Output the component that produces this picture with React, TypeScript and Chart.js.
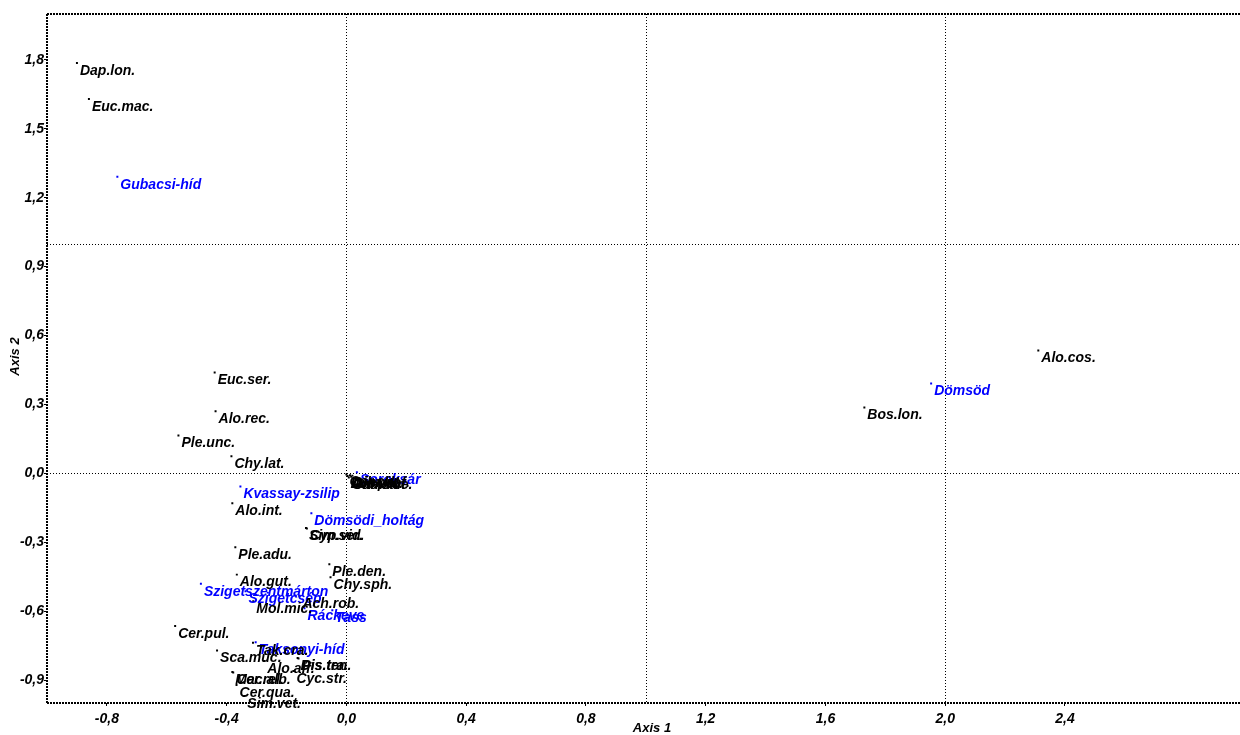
import React, { useEffect, useRef } from 'react';
import { Chart, registerables } from 'chart.js';

Chart.register(...registerables);

// Axis ticks and reference lines
const xTicks = [-0.8, -0.4, 0, 0.4, 0.8, 1.2, 1.6, 2.0, 2.4];
const yTicks = [-0.9, -0.6, -0.3, 0, 0.3, 0.6, 0.9, 1.2, 1.5, 1.8];
const refLinesX = [0, 1, 2];
const refLinesY = [0, 1];

// Species (black)
const speciesNames = [
  'Dap.lon.', 'Euc.mac.', 'Euc.ser.', 'Alo.rec.', 'Ple.unc.', 'Chy.lat.', 'Alo.int.',
  'Ple.adu.', 'Alo.gut.', 'Sim.ser.', 'Cyp.vid.', 'Ple.den.', 'Chy.sph.', 'Ach.rob.',
  'Mol.mic.', 'Cer.pul.', 'Tak.cra.', 'Sca.muc.', 'Alo.aff.', 'Dis.tra.', 'Pis.ten.',
  'Mac.alb.', 'Cer.rel.', 'Cyc.str.', 'Cer.qua.', 'Sim.vet.', 'Bos.lon.', 'Alo.cos.',
  'Cor.cur.', 'Dre.pol.', 'Gam.roe.', 'Dik.vil.', 'Jae.sar.', 'Lim.hof.',
];
const speciesX = [
  -0.90, -0.86, -0.44, -0.437, -0.561, -0.384, -0.381,
  -0.371, -0.366, -0.135, -0.132, -0.057, -0.053, -0.157,
  -0.311, -0.572, -0.312, -0.432, -0.274, -0.163, -0.160,
  -0.381, -0.378, -0.177, -0.367, -0.341, 1.730, 2.311,
  0.0, 0.004, 0.008, 0.012, 0.016, 0.020,
];
const speciesY = [
  1.787, 1.630, 0.439, 0.270, 0.165, 0.074, -0.130,
  -0.322, -0.441, -0.238, -0.240, -0.396, -0.452, -0.535,
  -0.557, -0.665, -0.738, -0.771, -0.817, -0.804, -0.806,
  -0.865, -0.867, -0.861, -0.922, -0.970, 0.287, 0.535,
  -0.005, -0.012, -0.018, -0.008, -0.015, -0.010,
];

// Sites (blue)
const siteNames = [
  'Gubacsi-híd', 'Kvassay-zsilip', 'Dömsödi_holtág', 'Dömsöd', 'Soroksár',
  'Szigetszentmárton', 'Szigetcsép', 'Ráckeve', 'Tass', 'Taksonyi-híd',
];
const siteX = [-0.765, -0.354, -0.117, 1.953, 0.035, -0.486, -0.337, -0.140, -0.047, -0.303];
const siteY = [1.291, -0.057, -0.174, 0.391, 0.005, -0.481, -0.513, -0.587, -0.596, -0.735];

const FONT_FAMILY = "'Liberation Sans', Arial, sans-serif";

export default function App() {
  const ref = useRef<HTMLCanvasElement>(null);

  useEffect(() => {
    if (!ref.current) return;
    const fmt = (v: number) => (Math.abs(v) < 1e-9 ? '0,0' : v.toFixed(1).replace('.', ','));

    const framePlugin = {
      id: 'frame',
      beforeDatasetsDraw(chart: any) {
        const { ctx, chartArea, scales } = chart;
        const { left, right, top, bottom } = chartArea;
        ctx.save();
        ctx.strokeStyle = '#000';
        ctx.lineWidth = 1;
        ctx.setLineDash([1, 2]);
        refLinesX.forEach((v) => {
          const px = Math.round(scales.x.getPixelForValue(v)) + 0.5;
          ctx.beginPath();
          ctx.moveTo(px, top);
          ctx.lineTo(px, bottom);
          ctx.stroke();
        });
        refLinesY.forEach((v) => {
          const py = Math.round(scales.y.getPixelForValue(v)) + 0.5;
          ctx.beginPath();
          ctx.moveTo(left, py);
          ctx.lineTo(right, py);
          ctx.stroke();
        });
        ctx.lineWidth = 2;
        ctx.setLineDash([2, 1]);
        ctx.beginPath();
        ctx.moveTo(left, top);
        ctx.lineTo(right, top);
        ctx.moveTo(left, top);
        ctx.lineTo(left, bottom);
        ctx.moveTo(left, bottom);
        ctx.lineTo(right, bottom);
        ctx.stroke();
        ctx.restore();
      },
      afterDraw(chart: any) {
        const { ctx, chartArea } = chart;
        ctx.save();
        ctx.fillStyle = '#000';
        ctx.font = `italic bold 13px ${FONT_FAMILY}`;
        ctx.textAlign = 'center';
        ctx.textBaseline = 'middle';
        ctx.fillText('Axis 1', 652, 728);
        ctx.translate(15, (chartArea.top + chartArea.bottom) / 2 - 2);
        ctx.rotate(-Math.PI / 2);
        ctx.fillText('Axis 2', 0, 0);
        ctx.restore();
      },
    };

    const labelPlugin = {
      id: 'pointLabels',
      afterDatasetsDraw(chart: any) {
        const ctx = chart.ctx;
        ctx.save();
        ctx.font = `italic bold 14px ${FONT_FAMILY}`;
        ctx.textBaseline = 'middle';
        ctx.textAlign = 'left';
        chart.data.datasets.forEach((ds: any, i: number) => {
          const meta = chart.getDatasetMeta(i);
          ctx.fillStyle = ds.labelColor;
          meta.data.forEach((el: any, j: number) => {
            ctx.fillText(ds.pointLabels[j], el.x + 3, el.y + 8);
          });
        });
        ctx.restore();
      },
    };

    const tickFont = { family: FONT_FAMILY, size: 14, style: 'italic' as const, weight: 'bold' as const };

    const chart = new Chart(ref.current, {
      type: 'scatter',
      data: {
        datasets: [
          {
            label: 'Sites',
            data: siteX.map((x, i) => ({ x, y: siteY[i] })),
            backgroundColor: '#0000ff',
            borderWidth: 0,
            pointStyle: 'rect',
            pointRadius: 1.4,
            pointHoverRadius: 1.4,
            // @ts-ignore
            pointLabels: siteNames,
            labelColor: '#0000ff',
          },
          {
            label: 'Species',
            data: speciesX.map((x, i) => ({ x, y: speciesY[i] })),
            backgroundColor: '#000000',
            borderWidth: 0,
            pointStyle: 'rect',
            pointRadius: 1.4,
            pointHoverRadius: 1.4,
            // @ts-ignore
            pointLabels: speciesNames,
            labelColor: '#000000',
          },
        ] as any,
      },
      options: {
        responsive: false,
        animation: false,
        events: [],
        layout: { padding: { top: 14, left: 0, right: 0, bottom: 0 } },
        plugins: { legend: { display: false }, tooltip: { enabled: false } },
        scales: {
          x: {
            type: 'linear',
            min: -1,
            max: 3,
            afterBuildTicks: (scale: any) => {
              scale.ticks = xTicks.map((v) => ({ value: v }));
            },
            afterFit: (scale: any) => {
              scale.height = 32;
            },
            grid: { display: true, drawOnChartArea: false, drawTicks: true, tickLength: 3, color: '#000' },
            border: { display: false },
            ticks: {
              color: '#000',
              font: tickFont,
              padding: 5,
              maxRotation: 0,
              autoSkip: false,
              callback: (v: any) => fmt(Number(v)),
            },
          },
          y: {
            type: 'linear',
            min: -1,
            max: 2,
            afterBuildTicks: (scale: any) => {
              scale.ticks = yTicks.map((v) => ({ value: v }));
            },
            afterFit: (scale: any) => {
              scale.width = 47;
            },
            grid: { display: true, drawOnChartArea: false, drawTicks: true, tickLength: 3, color: '#000' },
            border: { display: false },
            ticks: {
              color: '#000',
              font: tickFont,
              padding: 0,
              autoSkip: false,
              callback: (v: any) => fmt(Number(v)),
            },
          },
        },
      },
      plugins: [framePlugin, labelPlugin],
    });
    return () => chart.destroy();
  }, []);

  return (
    <div
      style={{
        position: 'fixed',
        left: 0,
        top: 0,
        width: 1240,
        height: 735,
        overflow: 'hidden',
        background: '#fff',
      }}
    >
      <canvas ref={ref} width={1246} height={735} style={{ display: 'block' }} />
    </div>
  );
}
